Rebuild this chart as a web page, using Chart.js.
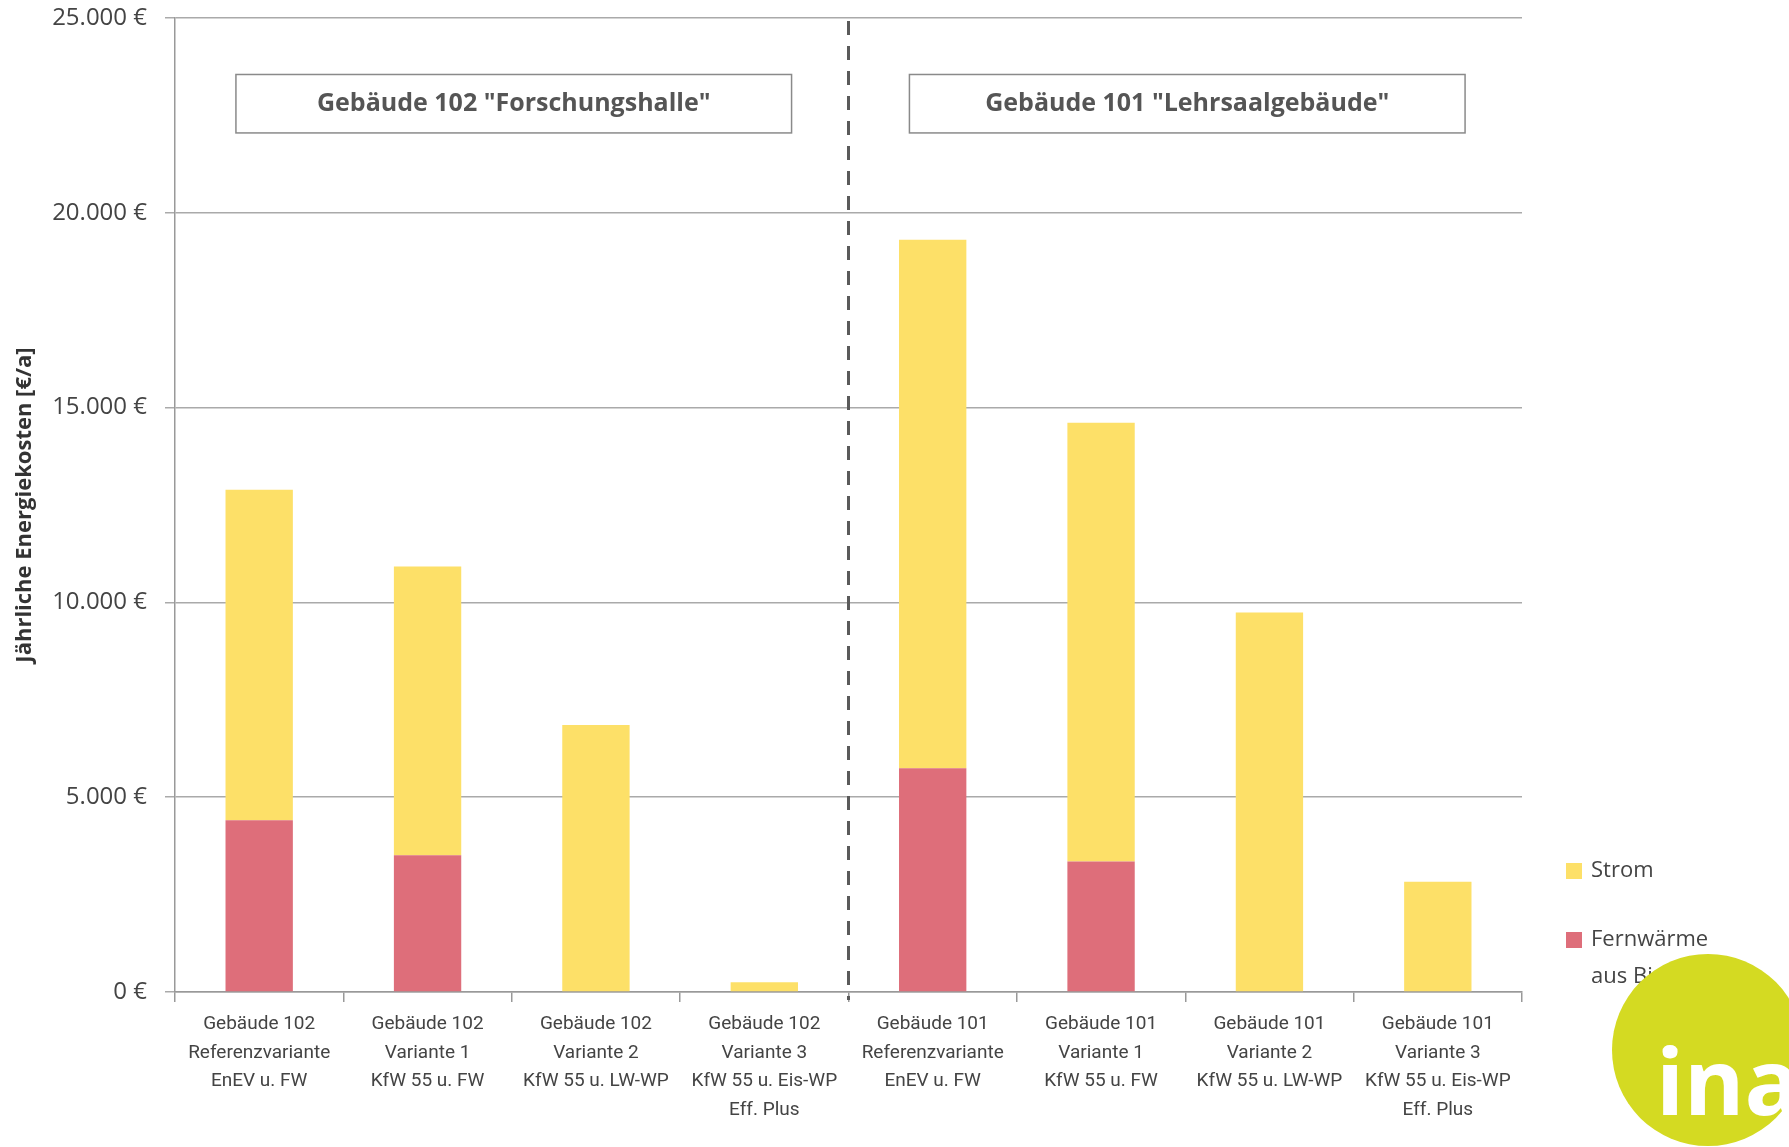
<!DOCTYPE html>
<html lang="de">
<head>
<meta charset="utf-8">
<title>Jährliche Energiekosten</title>
<script src="https://cdn.jsdelivr.net/npm/chart.js@4.4.0/dist/chart.umd.min.js"></script>
<style>
  html, body { margin: 0; padding: 0; background: #fff; }
  canvas { display: block; }
</style>
</head>
<body>
<canvas id="kostenChart" width="1789" height="1147"></canvas>
<script>
// Varianten je Gebäude (mehrzeilige Achsenbeschriftung)
const categories = [
  ['Gebäude 102', 'Referenzvariante', 'EnEV u. FW'],
  ['Gebäude 102', 'Variante 1', 'KfW 55 u. FW'],
  ['Gebäude 102', 'Variante 2', 'KfW 55 u. LW-WP'],
  ['Gebäude 102', 'Variante 3', 'KfW 55 u. Eis-WP', 'Eff. Plus'],
  ['Gebäude 101', 'Referenzvariante', 'EnEV u. FW'],
  ['Gebäude 101', 'Variante 1', 'KfW 55 u. FW'],
  ['Gebäude 101', 'Variante 2', 'KfW 55 u. LW-WP'],
  ['Gebäude 101', 'Variante 3', 'KfW 55 u. Eis-WP', 'Eff. Plus']
];

// jährliche Kosten in €/a
const fernwaerme = [4410, 3510, 0, 0, 5740, 3350, 0, 0];
const strom = [8480, 7410, 6850, 250, 13570, 11260, 9740, 2830];

const yTicks = [0, 5000, 10000, 15000, 20000, 25000];
const groupTitles = ['Gebäude 102 "Forschungshalle"', 'Gebäude 101 "Lehrsaalgebäude"'];
const seriesNames = ['Fernwärme aus Biomasse', 'Strom'];

const euro = v => v.toLocaleString('de-DE') + ' €';

// Trennlinie, Gebäude-Kästen, Legende und Logo
const overlay = {
  id: 'overlay',
  afterDatasetsDraw(chart) {
    const { ctx, chartArea, scales: { x, y } } = chart;
    const mid = (x.getPixelForValue(3) + x.getPixelForValue(4)) / 2;

    ctx.save();
    ctx.strokeStyle = '#5a5a5a';
    ctx.lineWidth = 3;
    ctx.setLineDash([14, 11]);
    ctx.beginPath();
    ctx.moveTo(mid, chartArea.top + 3);
    ctx.lineTo(mid, chartArea.bottom + 8);
    ctx.stroke();
    ctx.setLineDash([]);

    // Kästen mit Gebäudenamen
    const half = (chartArea.right - chartArea.left) / 2;
    const boxW = half * 0.825;
    const top = y.getPixelForValue(23550);
    const bottom = y.getPixelForValue(22050);
    groupTitles.forEach((t, i) => {
      const cx = chartArea.left + half * (i + 0.5) + 2;
      ctx.fillStyle = '#fff';
      ctx.fillRect(cx - boxW / 2, top, boxW, bottom - top);
      ctx.strokeStyle = '#8a8a8a';
      ctx.lineWidth = 1.5;
      ctx.strokeRect(cx - boxW / 2, top, boxW, bottom - top);
      ctx.fillStyle = '#555';
      ctx.font = 'bold 25px "Open Sans"';
      ctx.textAlign = 'center';
      ctx.textBaseline = 'middle';
      ctx.fillText(t, cx, (top + bottom) / 2);
    });

    // Legende rechts
    const lx = chartArea.right + 44;
    const items = [
      { ds: chart.data.datasets[1], y: 871, lines: [seriesNames[1]] },
      { ds: chart.data.datasets[0], y: 940, lines: ['Fernwärme', 'aus Biomasse'] }
    ];
    ctx.font = '22px "Open Sans"';
    ctx.textAlign = 'left';
    items.forEach(it => {
      ctx.fillStyle = it.ds.backgroundColor;
      ctx.fillRect(lx, it.y - 8, 16, 16);
      ctx.fillStyle = '#444';
      it.lines.forEach((l, k) => ctx.fillText(l, lx + 25, it.y + k * 37));
    });

    // Logo
    ctx.fillStyle = '#d4da22';
    ctx.beginPath();
    ctx.arc(1708, 1050, 96, 0, Math.PI * 2);
    ctx.fill();
    ctx.fillStyle = '#fff';
    ctx.font = 'bold 92px "Open Sans"';
    ctx.textBaseline = 'alphabetic';
    ctx.fillText('ina', 1656, 1115);
    ctx.restore();
  }
};

const ctx = document.getElementById('kostenChart').getContext('2d');
new Chart(ctx, {
  type: 'bar',
  data: {
    labels: categories,
    datasets: [
      {
        label: seriesNames[0],
        data: fernwaerme,
        backgroundColor: '#de6e7a',
        barPercentage: 0.4,
        categoryPercentage: 1.0
      },
      {
        label: seriesNames[1],
        data: strom,
        backgroundColor: '#fde068',
        barPercentage: 0.4,
        categoryPercentage: 1.0
      }
    ]
  },
  options: {
    responsive: false,
    animation: false,
    layout: { padding: { left: 0, right: 267, top: 18, bottom: 0 } },
    plugins: {
      legend: { display: false },
      tooltip: { enabled: false }
    },
    scales: {
      x: {
        stacked: true,
        afterFit: s => { s.height = 155; },
        grid: {
          offset: true,
          drawOnChartArea: false,
          drawTicks: true,
          tickLength: 10,
          color: '#999',
          lineWidth: 1.5
        },
        border: { color: '#999', width: 1.5 },
        ticks: {
          color: '#444',
          padding: 8,
          maxRotation: 0,
          autoSkip: false,
          font: { family: '"Liberation Sans Narrow", "Roboto"', size: 19, lineHeight: 1.5 }
        }
      },
      y: {
        stacked: true,
        min: 0,
        max: 25000,
        afterFit: s => {
          s.width = 175;
          s.paddingTop = 0;
          s.paddingBottom = 0;
        },
        afterBuildTicks: s => { s.ticks = yTicks.map(v => ({ value: v })); },
        grid: { color: '#aaa', lineWidth: 1.5, tickLength: 10 },
        border: { color: '#999', width: 1.5 },
        ticks: {
          color: '#444',
          padding: 18,
          font: { family: '"Open Sans"', size: 24 },
          callback: v => euro(v)
        },
        title: {
          display: true,
          text: 'Jährliche Energiekosten [€/a]',
          color: '#333',
          padding: { top: 12 },
          font: { family: '"Open Sans"', size: 22, weight: 'bold' }
        }
      }
    }
  },
  plugins: [overlay]
});
</script>
</body>
</html>
